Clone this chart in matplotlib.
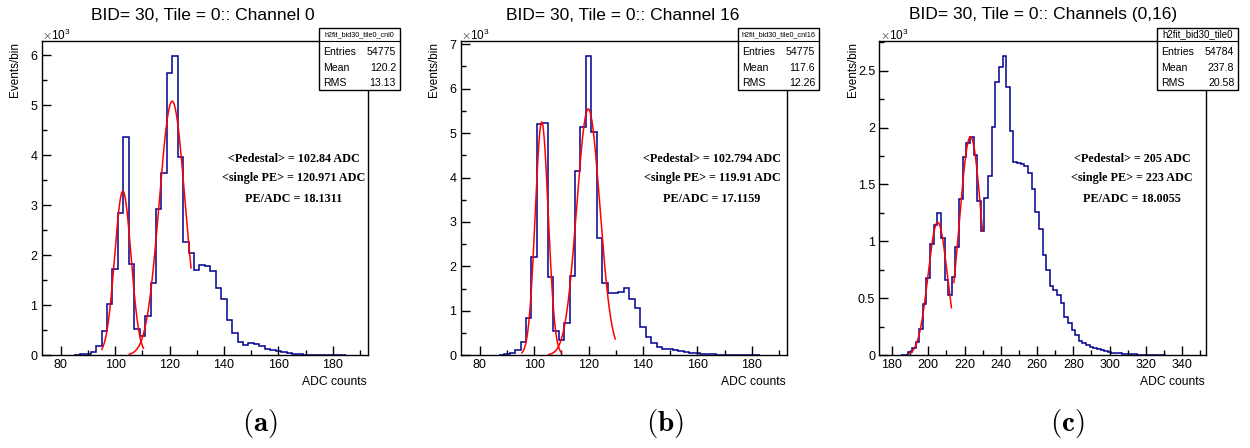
import numpy as np
import matplotlib
matplotlib.use("Agg")
import matplotlib.pyplot as plt
from matplotlib.ticker import MultipleLocator, FuncFormatter
from matplotlib.patches import Rectangle
from matplotlib.lines import Line2D

plt.rcParams['font.family'] = ['Liberation Sans', 'DejaVu Sans']
plt.rcParams['mathtext.fontset'] = 'cm'

W, H = 1250, 448

# ---------------- data ----------------
titles = ["BID= 30, Tile = 0:: Channel 0",
          "BID= 30, Tile = 0:: Channel 16",
          "BID= 30, Tile = 0:: Channels (0,16)"]
hist_names = ["h2fit_bid30_tile0_cnl0", "h2fit_bid30_tile0_cnl16", "h2fit_bid30_tile0"]
entries = ["54775", "54775", "54784"]
means = ["120.2", "117.6", "237.8"]
rmss = ["13.13", "12.26", "20.58"]
captions = ["(a)", "(b)", "(c)"]
ped_text = ["102.84", "102.794", "205"]
pe_text = ["120.971", "119.91", "223"]
ratio_text = ["18.1311", "17.1159", "18.0055"]

bin_width = 2
x_ranges = [(73, 193), (73, 193), (173, 353)]
y_max = [6290, 7074, 2760]

# panel a: bins starting at 85
a_start = 85
a_counts = [5, 20, 33, 67, 187, 480, 1034, 1728, 2850, 4378, 1835, 534, 387, 794,
            1441, 2923, 3650, 5652, 5986, 3971, 2269, 2055, 1702, 1808, 1788, 1688,
            1355, 1134, 700, 447, 267, 214, 240, 220, 187, 133, 113, 87, 60, 40, 27,
            20, 13, 13, 13, 7, 7, 7, 7, 5]
# panel b: bins starting at 87
b_start = 87
b_counts = [8, 22, 45, 120, 293, 833, 2220, 5206, 5236, 1755, 548, 345, 720, 1785,
            4148, 5131, 6737, 5019, 2633, 1620, 1410, 1410, 1425, 1508, 1268, 1058,
            630, 420, 270, 195, 135, 150, 120, 90, 68, 60, 45, 30, 22, 18, 15, 12,
            10, 7, 5, 5, 4, 3]
# panel c: bins starting at 185
c_start = 185
c_counts = [3, 6, 32, 61, 120, 228, 450, 682, 978, 1145, 1247, 1027, 662, 527, 685,
            954, 1373, 1745, 1868, 1915, 1759, 1358, 1095, 1379, 1575, 2008, 2400,
            2535, 2629, 2359, 1970, 1701, 1686, 1677, 1663, 1604, 1458, 1256, 1112,
            881, 749, 612, 574, 530, 457, 334, 281, 222, 179, 129, 105, 88, 76, 61,
            53, 44, 38, 29, 23, 20, 15, 12, 12, 9, 9, 6, 6, 6, 3, 3, 3, 3, 3]

# gaussian fits: (amplitude, mean, sigma, x_from, x_to)
a_fits = [(3283, 102.84, 3.0, 95.1, 110.4), (5085, 120.97, 4.74, 105.2, 127.9)]
b_fits = [(5250, 102.79, 2.4, 95.5, 110.0), (5544, 119.91, 4.24, 105.3, 129.8)]
c_fits = [(1168, 205.2, 5.3, 189.9, 212.8), (1920, 223.3, 6.2, 214.1, 229.9)]

starts = [a_start, b_start, c_start]
counts = [a_counts, b_counts, c_counts]
fits = [a_fits, b_fits, c_fits]

# ---------------- layout ----------------
axes_left_px = [41.7, 460.7, 879.3]
axes_width_px = 326.4
axes_top_px = 41.0
axes_bottom_px = 355.2
box_left_px = [319.3, 738.3, 1156.7]
box_width_px = [80.7, 81.0, 81.6]
text_center_px = [294, 712, 1132]
title_center_px = [203, 623, 1043]
caption_center_px = [260, 665, 1067]
y_major = [1000, 1000, 500]
y_minor = [500, 500, 250]
header_sizes = [5.2, 5.2, 7.0]

fig = plt.figure(figsize=(W / 100, H / 100), dpi=100)


def fx(x):
    return x / W


def fy(y):
    return 1 - y / H


hist_color = '#00008f'

for i in range(3):
    l = axes_left_px[i]
    ax = fig.add_axes([fx(l), fy(axes_bottom_px), axes_width_px / W,
                       (axes_bottom_px - axes_top_px) / H])
    vals = np.array(counts[i], dtype=float)
    edges = starts[i] + bin_width * np.arange(len(vals) + 1)
    ax.stairs(vals, edges, color=hist_color, lw=1.1)
    for amp, mu, sig, x0, x1 in fits[i]:
        xx = np.linspace(x0, x1, 200)
        ax.plot(xx, amp * np.exp(-0.5 * ((xx - mu) / sig) ** 2), color='#ff0000', lw=1.1)
    ax.set_xlim(*x_ranges[i])
    ax.set_ylim(0, y_max[i])
    ax.xaxis.set_major_locator(MultipleLocator(20))
    ax.xaxis.set_minor_locator(MultipleLocator(10))
    ax.yaxis.set_major_locator(MultipleLocator(y_major[i]))
    ax.yaxis.set_minor_locator(MultipleLocator(y_minor[i]))
    ax.yaxis.set_major_formatter(FuncFormatter(lambda v, p: f"{v / 1000:g}"))
    ax.tick_params(which='both', direction='in', top=False, right=False,
                   labelsize=9, width=1.0, color='black', pad=3)
    ax.tick_params(which='major', length=6.5)
    ax.tick_params(which='minor', length=3.5)
    for s in ax.spines.values():
        s.set_linewidth(1.0)

    # title
    fig.text(fx(title_center_px[i]), fy(15), titles[i], ha='center', va='center',
             fontsize=12.5)
    # x10^3
    fig.text(fx(l + 0.5), fy(40), r'$\times\mathregular{10^{3}}$', ha='left',
             va='baseline', fontsize=8.5)
    # y label
    fig.text(fx(l - 26.5), fy(42), "Events/bin", rotation=90, ha='center', va='top',
             fontsize=8.5)
    # x label
    fig.text(fx(l + axes_width_px - 1), fy(382), "ADC counts", ha='right', va='center',
             fontsize=8.7)

    # annotation
    tc = text_center_px[i]
    fig.text(fx(tc), fy(159), f"<Pedestal> = {ped_text[i]} ADC", ha='center', va='center',
             fontsize=8.7, fontweight='bold', family='Liberation Serif')
    fig.text(fx(tc), fy(178), f"<single PE> = {pe_text[i]} ADC", ha='center', va='center',
             fontsize=8.7, fontweight='bold', family='Liberation Serif')
    fig.text(fx(tc), fy(199), f"PE/ADC = {ratio_text[i]}", ha='center', va='center',
             fontsize=8.7, fontweight='bold', family='Liberation Serif')

    # stats box
    bl = box_left_px[i]
    bw = box_width_px[i]
    rect = Rectangle((fx(bl), fy(90)), bw / W, (90 - 27.7) / H, transform=fig.transFigure,
                     facecolor='white', edgecolor='black', lw=1.0, zorder=5)
    fig.add_artist(rect)
    fig.add_artist(Line2D([fx(bl), fx(bl + bw)], [fy(41), fy(41)], transform=fig.transFigure,
                          color='black', lw=0.8, zorder=6))
    fig.text(fx(bl + bw / 2), fy(34.5), hist_names[i], ha='center', va='center',
             fontsize=header_sizes[i], zorder=7)
    rows = [("Entries", entries[i], 51.7), ("Mean", means[i], 67.7), ("RMS", rmss[i], 83.0)]
    for lab, val, yy in rows:
        fig.text(fx(bl + 4), fy(yy), lab, ha='left', va='center', fontsize=7.6, zorder=7)
        fig.text(fx(bl + bw - 4), fy(yy), val, ha='right', va='center', fontsize=7.6, zorder=7)

    # caption
    fig.text(fx(caption_center_px[i]), fy(423), r'$\mathbf{' + captions[i] + '}$',
             ha='center', va='center', fontsize=21)

fig.savefig("out.png", dpi=100)
